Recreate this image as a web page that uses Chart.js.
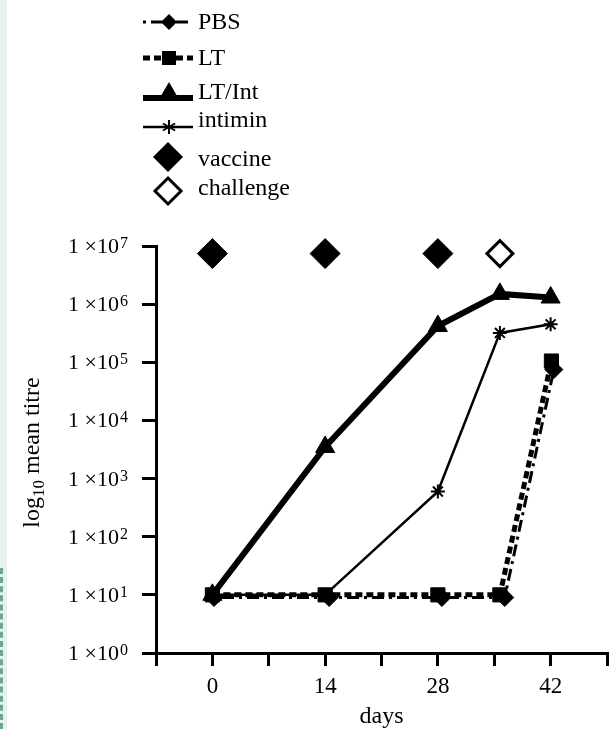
<!DOCTYPE html>
<html>
<head>
<meta charset="utf-8">
<script src="https://cdn.jsdelivr.net/npm/chart.js@4/dist/chart.umd.min.js"></script>
<style>
  html, body { margin: 0; padding: 0; background: #fff; }
  #wrap { position: relative; width: 609px; height: 729px; overflow: hidden; }
  #strip { position: absolute; left: 0; top: 0; width: 7px; height: 729px; background: #e4f1ed; }
  #dash { position: absolute; left: 0; top: 568px; height: 161px; border-left: 3px dashed #62ab95; }
  canvas { position: absolute; left: 0; top: 0; }
</style>
</head>
<body>
<div id="wrap">
  <div id="strip"></div>
  <div id="dash"></div>
  <canvas id="grafico" width="609" height="729"></canvas>
</div>
<script>
// days after first dose, and mean titres
const pbsDays = [0.2, 14.5, 28.5, 36.3, 42.4];
const pbsTitre = [9, 9, 9, 9, 7.5e4];
const ltDays = [0, 14, 28, 35.7, 42.1];
const ltTitre = [10, 10, 10, 10, 1.05e5];
const ltIntDays = [0, 14, 28, 35.7, 42];
const ltIntTitre = [10, 3.5e3, 4.2e5, 1.5e6, 1.3e6];
const intiminDays = [0, 14, 28, 35.7, 42];
const intiminTitre = [10, 10, 6e2, 3.2e5, 4.5e5];
const vaccineDays = [0, 14, 28];
const challengeDays = [35.7];
const markerLevel = 7.4e6;

const xTickLabels = [0, 14, 28, 42];
const yDecades = [0, 1, 2, 3, 4, 5, 6, 7];

const legendItems = ["PBS", "LT", "LT/Int", "intimin", "vaccine", "challenge"];

const serif = "'Liberation Serif', 'Times New Roman', serif";

function pts(xs, ys) {
  return xs.map((d, i) => ({ x: d, y: ys[i] }));
}

// axis labels with superscripts/subscripts, legend with line samples
const textPlugin = {
  id: "textPlugin",
  afterDraw(chart) {
    const ctx = chart.ctx;
    const xs = chart.scales.x, ys = chart.scales.y;
    ctx.save();
    ctx.fillStyle = "#000";
    ctx.textBaseline = "alphabetic";

    // y tick labels  1 x10^n
    yDecades.forEach(k => {
      const py = ys.getPixelForValue(Math.pow(10, k));
      ctx.font = "22px " + serif;
      const main = "1 \u00d710";
      const mw = ctx.measureText(main).width;
      ctx.font = "16px " + serif;
      const sw = ctx.measureText(String(k)).width;
      const x0 = 127 - sw - mw;
      ctx.font = "22px " + serif;
      ctx.textAlign = "left";
      ctx.fillText(main, x0, py + 7);
      ctx.font = "16px " + serif;
      ctx.fillText(String(k), x0 + mw + 1, py + 2);
    });

    // x tick labels
    ctx.font = "23px " + serif;
    ctx.textAlign = "center";
    xTickLabels.forEach(d => {
      ctx.fillText(String(d), xs.getPixelForValue(d), chart.chartArea.bottom + 40);
    });
    ctx.font = "24px " + serif;
    ctx.fillText("days", (chart.chartArea.left + chart.chartArea.right) / 2, 723);

    // y title  log10 mean titre
    const cy = (chart.chartArea.top + chart.chartArea.bottom) / 2 + 3;
    ctx.font = "24px " + serif;
    const a = "log", b = " mean titre";
    const aw = ctx.measureText(a).width, bw = ctx.measureText(b).width;
    ctx.font = "17px " + serif;
    const subw = ctx.measureText("10").width;
    const total = aw + subw + bw;
    ctx.translate(39, cy);
    ctx.rotate(-Math.PI / 2);
    ctx.textAlign = "left";
    ctx.font = "24px " + serif;
    ctx.fillText(a, -total / 2, 0);
    ctx.font = "17px " + serif;
    ctx.fillText("10", -total / 2 + aw, 5);
    ctx.font = "24px " + serif;
    ctx.fillText(b, -total / 2 + aw + subw, 0);
    ctx.restore();

    // legend
    ctx.save();
    ctx.fillStyle = "#000";
    ctx.strokeStyle = "#000";
    const lx0 = 143, lx1 = 193, mx = 169, tx = 198;
    function seg(y, w, dash) {
      ctx.beginPath();
      ctx.lineWidth = w;
      ctx.setLineDash(dash);
      ctx.moveTo(lx0, y);
      ctx.lineTo(lx1, y);
      ctx.stroke();
      ctx.setLineDash([]);
    }
    function diamond(x, y, r, fill) {
      ctx.beginPath();
      ctx.moveTo(x, y - r);
      ctx.lineTo(x + r, y);
      ctx.lineTo(x, y + r);
      ctx.lineTo(x - r, y);
      ctx.closePath();
      if (fill) ctx.fill(); else { ctx.lineWidth = 3; ctx.stroke(); }
    }
    // PBS
    seg(22, 3, [3, 5, 12, 5]);
    diamond(mx, 22, 8, true);
    // LT
    seg(58, 5, [7, 4]);
    ctx.fillRect(mx - 7, 51, 14, 14);
    // LT/Int
    seg(98, 6, []);
    ctx.beginPath();
    ctx.moveTo(mx, 82);
    ctx.lineTo(mx + 11, 101);
    ctx.lineTo(mx - 11, 101);
    ctx.closePath();
    ctx.fill();
    // intimin
    seg(127, 2.5, []);
    ctx.beginPath();
    ctx.lineWidth = 2;
    for (let i = 0; i < 3; i++) {
      const ang = Math.PI / 2 + i * Math.PI / 3;
      ctx.moveTo(mx - 7 * Math.cos(ang), 127 - 7 * Math.sin(ang));
      ctx.lineTo(mx + 7 * Math.cos(ang), 127 + 7 * Math.sin(ang));
    }
    ctx.stroke();
    // vaccine / challenge
    diamond(168, 157, 15, true);
    diamond(168, 191, 13, false);

    ctx.font = "24px " + serif;
    ctx.textAlign = "left";
    const baselines = [29, 65, 99, 127, 166, 195];
    legendItems.forEach((t, i) => ctx.fillText(t, tx, baselines[i]));
    ctx.restore();
  }
};

new Chart(document.getElementById("grafico"), {
  type: "scatter",
  data: {
    datasets: [
      {
        label: "vaccine",
        data: pts(vaccineDays, vaccineDays.map(() => markerLevel)),
        pointStyle: "rectRot",
        pointRadius: 15,
        backgroundColor: "#000",
        borderColor: "#000",
        showLine: false
      },
      {
        label: "challenge",
        data: pts(challengeDays, challengeDays.map(() => markerLevel)),
        pointStyle: "rectRot",
        pointRadius: 13,
        pointBorderWidth: 3,
        backgroundColor: "#fff",
        borderColor: "#000",
        showLine: false
      },
      {
        label: "intimin",
        data: pts(intiminDays, intiminTitre),
        showLine: true,
        borderColor: "#000",
        borderWidth: 2.5,
        pointStyle: "star",
        pointRadius: 7,
        pointBorderWidth: 2,
        backgroundColor: "#000"
      },
      {
        label: "LT/Int",
        data: pts(ltIntDays, ltIntTitre),
        showLine: true,
        borderColor: "#000",
        borderWidth: 6,
        pointStyle: "triangle",
        pointRadius: 11,
        pointBorderWidth: 1,
        backgroundColor: "#000"
      },
      {
        label: "LT",
        data: pts(ltDays, ltTitre),
        showLine: true,
        borderColor: "#000",
        borderWidth: 5,
        borderDash: [7, 4],
        pointStyle: "rect",
        pointRadius: 10,
        pointBorderWidth: 1,
        backgroundColor: "#000"
      },
      {
        label: "PBS",
        data: pts(pbsDays, pbsTitre),
        showLine: true,
        borderColor: "#000",
        borderWidth: 3,
        borderDash: [3, 5, 12, 5],
        pointStyle: "rectRot",
        pointRadius: 9,
        pointBorderWidth: 1,
        backgroundColor: "#000"
      }
    ].map(d => Object.assign({ clip: false, pointHoverRadius: d.pointRadius }, d))
  },
  options: {
    responsive: false,
    animation: false,
    devicePixelRatio: 1,
    layout: { autoPadding: false, padding: { top: 246, right: 2, left: 0, bottom: 0 } },
    plugins: {
      legend: { display: false },
      tooltip: { enabled: false }
    },
    scales: {
      x: {
        type: "linear",
        min: -7,
        max: 49,
        ticks: { display: false, stepSize: 7 },
        grid: { display: true, drawOnChartArea: false, drawTicks: true, tickLength: 13, lineWidth: 3, color: "#000" },
        border: { display: true, width: 3, color: "#000" },
        afterFit(scale) { scale.height = 76; }
      },
      y: {
        type: "logarithmic",
        min: 1,
        max: 1e7,
        ticks: { display: false },
        afterBuildTicks(scale) {
          scale.ticks = yDecades.map(k => ({ value: Math.pow(10, k) }));
        },
        grid: { display: true, drawOnChartArea: false, drawTicks: true, tickLength: 14, lineWidth: 3, color: "#000" },
        border: { display: true, width: 3, color: "#000" },
        afterFit(scale) { scale.width = 156; }
      }
    }
  },
  plugins: [textPlugin]
});
</script>
</body>
</html>
